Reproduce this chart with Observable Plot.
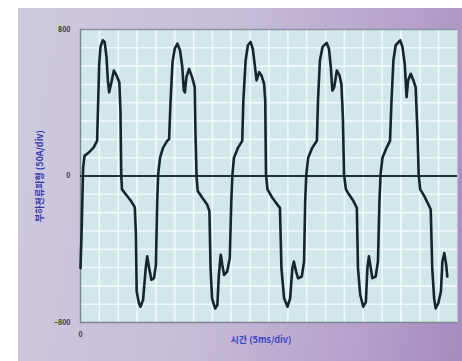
<!DOCTYPE html>
<html>
<head>
<meta charset="utf-8">
<script src="https://cdn.jsdelivr.net/npm/d3@7"></script>
<script src="https://cdn.jsdelivr.net/npm/@observablehq/plot@0.6"></script>
<style>
  html, body { margin: 0; padding: 0; background: #ffffff; }
  #wrap { position: relative; width: 462px; height: 361px; overflow: hidden; }
  #bg { position: absolute; left: 18px; top: 8px; width: 444px; height: 353px;
        background: linear-gradient(100deg, #cfcade 0%, #c6bcd8 45%, #b7a4cc 75%, #a58bbf 100%); }
  #chart { position: absolute; left: 0; top: 0; }
</style>
</head>
<body>
<div id="wrap"><div id="bg"></div><div id="chart"></div></div>
<script>
// Time axis (ms, 5 ms/div) and waveform amplitude
const timeMs = [
  0, 0.27, 0.7, 1.06, 2.2, 3.5, 4.4, 4.7, 4.96, 5.3, 5.9, 6.4, 6.9, 7.26, 7.6, 8.1, 8.85, 9.56, 10.3, 10.6, 10.8, 11.0, 12.0, 13.3, 14.4, 14.7, 14.9, 15.5, 15.9, 16.6, 17.3, 17.7, 18.2, 18.8, 19.5, 20.0,
  20.35, 20.6, 21.1, 21.9, 23.0, 23.5, 23.9, 24.4, 25.0, 25.7, 26.4, 27.0, 27.4, 27.7, 28.1, 28.8, 29.6, 30.3, 30.5, 30.8, 31.1, 32.3, 33.6, 34.2, 34.5, 34.9, 35.7, 36.3, 36.7, 37.2, 37.6, 38.1, 38.9, 39.6,
  40.0, 40.3, 40.7, 41.8, 42.9, 43.2, 43.8, 44.4, 45.1, 45.7, 46.3, 46.7, 47.4, 48.0, 48.7, 49.0, 49.2, 49.6, 50.9, 52.2, 52.9, 53.3, 54.0, 54.9, 55.6, 56.2, 56.6, 57.2, 57.7, 58.7, 59.3,
  59.6, 59.9, 60.4, 61.5, 62.7, 63.0, 63.5, 64.2, 65.3, 65.9, 66.4, 66.8, 67.3, 68.0, 68.7, 69.2, 69.6, 69.9, 70.4, 71.2, 72.4, 73.3, 73.6, 74.2, 75.0, 75.7, 76.1, 76.5, 77.0, 77.4, 78.3, 78.9,
  79.3, 79.6, 80.1, 81.2, 82.1, 82.5, 83.0, 83.6, 84.8, 85.4, 86.0, 86.5, 86.9, 87.6, 88.3, 88.9, 89.4, 89.7, 90.1, 91.2, 92.3, 92.9, 93.3, 93.8, 94.2, 94.9, 95.6, 96.0, 96.5, 97.0, 97.3
];
const amplitude = [
  -503, -320, 46, 110, 128, 156, 192, 412, 613, 705, 741, 732, 650, 522, 457, 503, 576, 549, 512, 357, 9, -73, -100, -134, -170, -320, -631, -695, -714, -677, -503, -439, -503, -567, -558, -485,
  -137, 9, 100, 155, 192, 201, 412, 622, 695, 723, 686, 595, 467, 457, 540, 585, 540, 485, 229, -9, -82, -119, -156, -192, -503, -668, -723, -705, -540, -430, -485, -540, -522, -448,
  -137, 9, 100, 155, 192, 412, 631, 714, 732, 695, 595, 522, 567, 549, 503, 412, 9, -73, -119, -156, -174, -503, -668, -714, -668, -503, -467, -522, -558, -549, -467,
  -137, 9, 100, 155, 192, 412, 631, 705, 727, 695, 595, 467, 485, 576, 549, 503, 320, 9, -73, -100, -137, -174, -503, -650, -714, -687, -503, -439, -503, -558, -549, -467,
  -137, 9, 100, 155, 192, 412, 631, 714, 741, 705, 613, 430, 522, 558, 522, 485, 229, 9, -73, -110, -156, -183, -503, -668, -723, -695, -631, -467, -421, -485, -549
];
const yTicks = [-800, 0, 800];
const xTicks = [0];
const yLabel = "부하전류파형 (50A/div)";
const xLabel = "시간 (5ms/div)";

const data = timeMs.map((t, i) => ({t, v: amplitude[i]}));

const chart = Plot.plot({
  width: 462,
  height: 361,
  marginLeft: 80,
  marginRight: 5,
  marginTop: 29,
  marginBottom: 39,
  style: {background: "transparent", fontFamily: "'Noto Sans CJK KR', 'DejaVu Sans', sans-serif"},
  x: {domain: [0, 100], axis: null},
  y: {domain: [-800, 800], axis: null},
  marks: [
    Plot.frame({fill: "#d2e7e8", stroke: null}),
    Plot.gridX(d3.range(5, 100, 5), {stroke: "#f6fdfd", strokeOpacity: 0.85, strokeWidth: 1.6}),
    Plot.gridY(d3.range(-700, 800, 100), {stroke: "#f6fdfd", strokeOpacity: 0.85, strokeWidth: 1.6}),
    Plot.ruleY([800], {stroke: "#8c94a4", strokeWidth: 1.5}),
    Plot.ruleY([-800], {stroke: "#7c8494", strokeWidth: 1.5}),
    Plot.ruleX([0], {stroke: "#7c8898", strokeWidth: 1.5}),
    Plot.ruleY([0], {stroke: "#1e3436", strokeWidth: 2}),
    Plot.line(data, {x: "t", y: "v", stroke: "#15262a", strokeWidth: 2.6, curve: "linear", strokeLinejoin: "round"}),
    Plot.axisY(yTicks, {tickSize: 0, tickPadding: 10, fontSize: 7, fontWeight: "bold", fill: "#3a3a48", label: null}),
    Plot.axisX(xTicks, {tickSize: 0, tickPadding: 10, fontSize: 7, fontWeight: "bold", fill: "#3a3a48", label: null}),
    Plot.text([yLabel], {frameAnchor: "left", dx: -40, rotate: -90, fill: "#3535b0", fontSize: 9, fontWeight: "bold", textAnchor: "middle"}),
    Plot.text([xLabel], {frameAnchor: "bottom", dy: 18, dx: -8, fill: "#3a44c0", fontSize: 9, fontWeight: "bold", textAnchor: "middle", lineAnchor: "middle"})
  ]
});
document.getElementById("chart").appendChild(chart);
</script>
</body>
</html>
